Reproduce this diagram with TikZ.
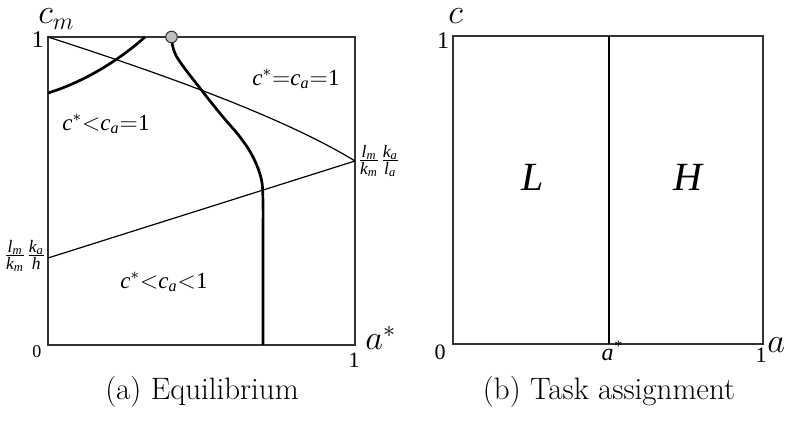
\documentclass[tikz,border=0pt]{standalone}
\usepackage{amsmath}
\usepackage{fontspec}
\newfontfamily\tms{Liberation Serif}
\newcommand\ti[1]{\text{\tms\itshape #1}}
\newcommand\tn[1]{\text{\tms #1}}
\tikzset{
  boxline/.style={line width=0.75pt, draw=black!80},
  thinline/.style={line width=0.6pt},
  thickline/.style={line width=1.35pt},
  eqdot/.style={circle, draw=black!80, line width=0.5pt, fill=black!25, inner sep=0pt, minimum size=5.8pt},
  axlab/.style={inner sep=0pt, font=\fontsize{18}{20}\selectfont},
  toplab/.style={inner sep=0pt, font=\fontsize{16.5}{18}\selectfont},
  numlab/.style={inner sep=0pt, font=\tms\fontsize{11}{13}\selectfont},
  reglab/.style={inner sep=0pt, font=\fontsize{11.5}{13}\selectfont},
  fraclab/.style={inner sep=0pt, font=\fontsize{12.5}{14}\selectfont},
  bigreg/.style={inner sep=0pt, font=\tms\itshape\fontsize{20}{22}\selectfont},
  caplab/.style={inner sep=0pt, font=\fontsize{15.5}{18}\selectfont}
}
\begin{document}
\begin{tikzpicture}[x=0.5pt,y=-0.5pt]
\useasboundingbox (0,0) rectangle (790,421);
% ---------- left panel ----------
\coordinate (A0) at (48,345);
\coordinate (A1) at (355,345);
\coordinate (A3) at (48,37);
\coordinate (P) at (355,161);
\coordinate (Q) at (48,258);
\coordinate (T0) at (48,93);
\coordinate (T1) at (145,37);
\coordinate (B) at (263,345);
\draw[boxline] (A3) rectangle (A1);
\draw[thinline] (A3) .. controls (150,70) and (280,115) .. (P);
\draw[thinline] (Q) -- (P);
\draw[thickline] (T0) .. controls (90,80) and (125,55) .. (T1);
\draw[thickline] plot[smooth, tension=0.6] coordinates {(171.5,37) (176.7,56.7) (203,92) (223,117) (240,137) (253,157) (261.5,180) (263,205) (263,225)} -- (B);
\node[eqdot] (eq) at (171.5,37) {};
\node[toplab, anchor=base west] (cm) at (38,24) {$c_m$};
\node[numlab, font=\tms\fontsize{12}{14}\selectfont] (oneL) at (38,40) {1};
\node[numlab, font=\tms\fontsize{9}{11}\selectfont] (zeroL) at (37,352) {0};
\node[numlab] (oneB) at (354,360) {1};
\node[axlab, anchor=base west] (astarL) at (365,350) {$a^*$};
\node[reglab] (r1) at (296,79) {$\ti{c}^{*}{=}\ti{c}_{\ti{a}}{=}\tn{1}$};
\node[reglab] (r2) at (106,124) {$\ti{c}^{*}{<}\ti{c}_{\ti{a}}{=}\tn{1}$};
\node[reglab] (r3) at (164,282) {$\ti{c}^{*}{<}\ti{c}_{\ti{a}}{<}\tn{1}$};
\node[fraclab] (fr1) at (379,161) {$\frac{\ti{l}_{\ti{m}}}{\ti{k}_{\ti{m}}}\frac{\ti{k}_{\ti{a}}}{\ti{l}_{\ti{a}}}$};
\node[fraclab] (fr2) at (25,256) {$\frac{\ti{l}_{\ti{m}}}{\ti{k}_{\ti{m}}}\frac{\ti{k}_{\ti{a}}}{\ti{h}}$};
\node[caplab] (capA) at (202,392) {(a) Equilibrium};
% ---------- right panel ----------
\coordinate (R0) at (453,344);
\coordinate (R2) at (763,36);
\coordinate (M0) at (609,36);
\coordinate (M1) at (609,344);
\draw[boxline] (R0) rectangle (R2);
\draw[thinline] (M0) -- (M1);
\node[toplab, anchor=base west] (cR) at (448,24) {$c$};
\node[numlab, font=\tms\fontsize{12}{14}\selectfont] (oneR) at (443,41) {1};
\node[numlab] (zeroR) at (440,352) {0};
\node[reglab, font=\tms\itshape\fontsize{12}{14}\selectfont, anchor=base] (astarR) at (612,360) {a\textsuperscript{*}};
\node[numlab] (oneRB) at (761,355) {1};
\node[axlab, anchor=base west] (aR) at (767,352) {$a$};
\node[bigreg] (L) at (533,177) {L};
\node[bigreg] (H) at (688,177) {H};
\node[caplab] (capB) at (609,392) {(b) Task assignment};
\end{tikzpicture}
\end{document}
